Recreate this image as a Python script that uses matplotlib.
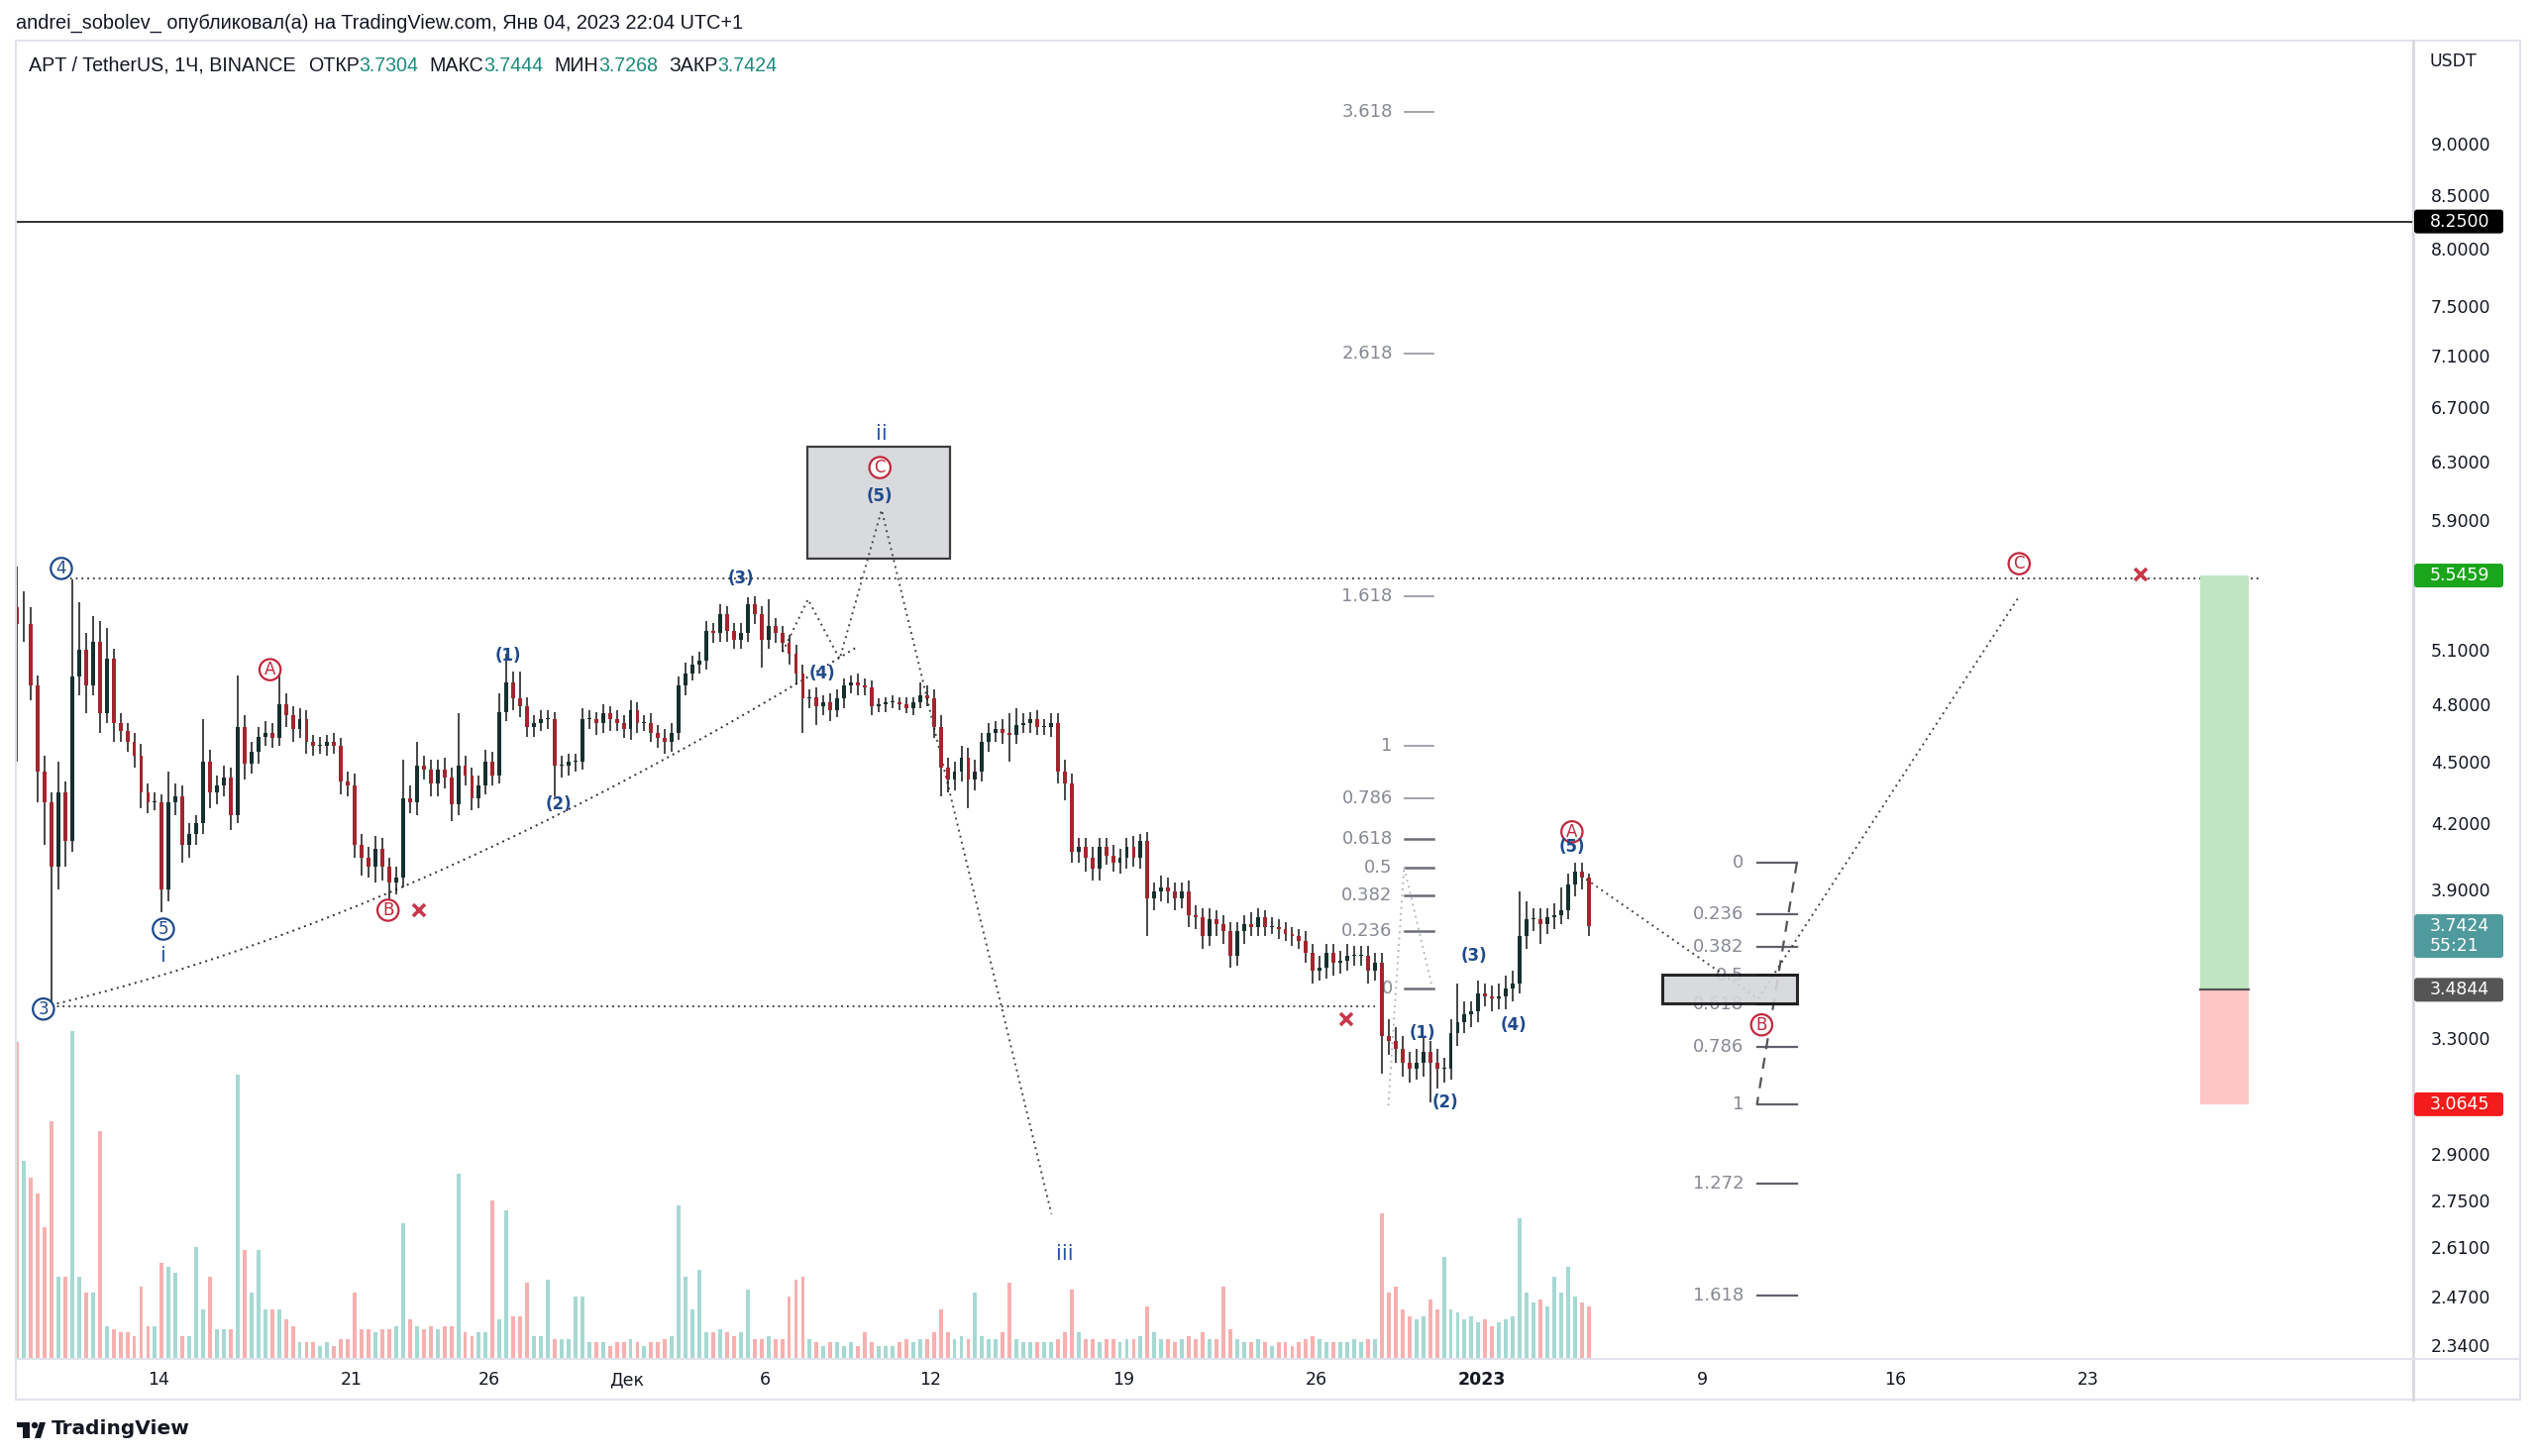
import numpy as np
import matplotlib
matplotlib.use("Agg")
import matplotlib.pyplot as plt
from matplotlib.patches import Rectangle, FancyBboxPatch, Circle, Polygon
from matplotlib.transforms import IdentityTransform
from matplotlib.ticker import FixedLocator, FormatStrFormatter, NullLocator
from matplotlib.lines import Line2D

plt.rcParams['font.family'] = ['DejaVu Sans']

W, H, DPI = 2560, 1470, 100

# ------------------------------------------------------------------ data
# 6-hour candles, x in days relative to 14 Nov 2022 00:00
START_DAY = -5.25
STEP = 0.25
FIRST_OPEN = 5.35
closes = [
 5.25,
 5.25, 4.90, 4.45, 4.30,
 4.00, 4.35, 4.12, 4.95,
 5.10, 4.90, 5.15, 4.75,
 5.05, 4.70, 4.66, 4.60,
 4.53, 4.35, 4.30, 4.30,
 3.90, 4.30, 4.33, 4.10,
 4.15, 4.20, 4.50, 4.35,
 4.38, 4.42, 4.24, 4.68,
 4.49, 4.55, 4.63, 4.65,
 4.62, 4.80, 4.74, 4.67,
 4.72, 4.60, 4.58, 4.58,
 4.60, 4.58, 4.40, 4.38,
 4.10, 4.04, 4.00, 4.08,
 4.00, 3.93, 3.95, 4.32,
 4.30, 4.48, 4.46, 4.39,
 4.46, 4.42, 4.29, 4.48,
 4.43, 4.32, 4.38, 4.50,
 4.43, 4.76, 4.92, 4.83,
 4.79, 4.68, 4.70, 4.72,
 4.72, 4.48, 4.48, 4.50,
 4.50, 4.72, 4.72, 4.70,
 4.75, 4.72, 4.70, 4.67,
 4.77, 4.70, 4.70, 4.65,
 4.62, 4.60, 4.65, 4.90,
 4.97, 5.02, 5.04, 5.21,
 5.20, 5.31, 5.21, 5.16,
 5.20, 5.37, 5.31, 5.16,
 5.24, 5.20, 5.14, 5.08,
 4.97, 4.83, 4.84, 4.79,
 4.81, 4.77, 4.83, 4.90,
 4.92, 4.90, 4.89, 4.79,
 4.80, 4.81, 4.81, 4.80,
 4.78, 4.81, 4.85, 4.83,
 4.68, 4.47, 4.41, 4.45,
 4.52, 4.41, 4.45, 4.60,
 4.65, 4.67, 4.65, 4.64,
 4.69, 4.70, 4.72, 4.68,
 4.68, 4.70, 4.45, 4.39,
 4.07, 4.09, 4.04, 3.99,
 4.09, 4.05, 4.02, 4.04,
 4.09, 4.04, 4.12, 3.86,
 3.89, 3.91, 3.89, 3.86,
 3.89, 3.79, 3.78, 3.70,
 3.77, 3.75, 3.72, 3.62,
 3.72, 3.75, 3.74, 3.78,
 3.74, 3.74, 3.73, 3.71,
 3.70, 3.68, 3.63, 3.56,
 3.57, 3.63, 3.59, 3.60,
 3.62, 3.62, 3.62, 3.56,
 3.59, 3.31, 3.29, 3.26,
 3.21, 3.19, 3.21, 3.25,
 3.21, 3.19, 3.19, 3.32,
 3.36, 3.39, 3.40, 3.47,
 3.46, 3.45, 3.46, 3.49,
 3.51, 3.70, 3.77, 3.77,
 3.75, 3.78, 3.79, 3.81,
 3.92, 3.98, 3.95, 3.7424,
]
# upper / lower wick beyond the body, in cents
hi_ext = [
 25,
 20, 10, 6, 8,   5, 15, 5, 57,   28, 10, 15, 12,   18, 6, 5, 4,
 5, 6, 4, 5,     4, 15, 6, 5,    5, 4, 22, 6,      5, 6, 5, 28,
 6, 5, 5, 6,     5, 16, 6, 5,    6, 5, 4, 5,       4, 5, 4, 5,
 6, 5, 5, 6,     5, 4, 5, 19,    6, 12, 5, 5,      5, 6, 5, 27,
 5, 4, 5, 6,     5, 10, 16, 6,   15, 5, 4, 5,      5, 4, 5, 4,
 4, 6, 5, 4,     5, 4, 5, 4,     5, 4, 4, 5,       4, 5, 5, 5,
 6, 5, 5, 6,     5, 6, 5, 5,     6, 4, 5, 5,       16, 5, 4, 5,
 5, 5, 4, 5,     4, 5, 5, 4,     4, 5, 4, 4,       3, 3, 4, 3,
 4, 3, 7, 5,     5, 6, 5, 5,     6, 5, 6, 5,       5, 4, 5, 10,
 9, 5, 4, 5,     4, 5, 5, 6,     5, 4, 4, 5,       4, 4, 5, 4,
 4, 5, 3, 4,     4, 5, 4, 4,     4, 5, 4, 4,       5, 4, 4, 4,
 4, 4, 5, 4,     3, 4, 3, 3,     3, 3, 4, 4,       5, 4, 4, 4,
 5, 4, 4, 4,     4, 4, 6, 5,     5, 4, 5, 5,       4, 5, 4, 5,
 15, 5, 4, 5,    4, 4, 5, 5,     5, 19, 8, 5,      5, 4, 5, 10,
 5, 4, 4, 2,
]
lo_ext = [
 75,
 10, 8, 15, 20,  58, 10, 12, 5,  10, 15, 5, 10,    5, 10, 6, 5,
 6, 8, 5, 4,     10, 5, 6, 8,    6, 5, 5, 8,       6, 5, 7, 4,
 8, 5, 6, 5,     5, 4, 6, 7,     5, 6, 5, 4,       5, 4, 6, 5,
 6, 8, 5, 7,     6, 11, 5, 4,    5, 6, 5, 6,       6, 5, 8, 5,
 5, 6, 5, 4,     5, 4, 5, 6,     6, 5, 5, 4,       5, 15, 6, 5,
 5, 4, 5, 6,     5, 6, 4, 5,     6, 5, 4, 5,       5, 6, 5, 4,
 5, 4, 5, 5,     6, 5, 6, 5,     5, 5, 6, 16,      5, 6, 5, 6,
 6, 18, 5, 10,   5, 6, 4, 5,     4, 5, 4, 5,       3, 4, 3, 3,
 3, 4, 3, 4,     6, 14, 6, 5,    5, 14, 5, 5,      5, 5, 6, 14,
 5, 4, 5, 4,     4, 5, 6, 8,     5, 5, 6, 5,       5, 4, 4, 5,
 5, 4, 5, 16,    5, 4, 5, 5,     4, 5, 5, 5,       4, 5, 5, 5,
 4, 5, 4, 4,     4, 3, 4, 3,     4, 3, 4, 5,       4, 4, 5, 4,
 4, 4, 4, 5,     4, 14, 5, 5,    5, 5, 4, 5,       14, 7, 5, 4,
 5, 4, 5, 4,     4, 5, 4, 5,     5, 4, 5, 5,       8, 4, 5, 4,
 4, 5, 5, 4,
]
volume_k = [
 95.8,
 60, 55, 50, 40,  72, 25, 25, 99.3,  25, 20, 20, 69,  10, 9, 8, 8,
 7, 22, 10, 10,   29, 28, 26, 7,     7, 34, 15, 25,   9, 9, 9, 86,
 33, 20, 33, 15,  15, 15, 12, 10,    5, 5, 5, 4,      5, 4, 6, 6,
 20, 9, 9, 8,     9, 9, 10, 41,      12, 10, 9, 10,   9, 10, 10, 56,
 8, 7, 8, 8,      48, 12, 45, 13,    13, 23, 7, 7,    24, 6, 6, 6,
 19, 19, 5, 5,    5, 4, 5, 5,        6, 5, 4, 5,      5, 6, 7, 46.5,
 25, 15, 27, 8,   8, 9, 8, 7,        8, 21, 6, 6,     7, 6, 6, 19,
 24, 25, 6, 5,    4, 5, 5, 4,        5, 4, 8, 5,      4, 4, 4, 5,
 6, 5, 6, 6,      8, 15, 8, 6,       7, 6, 20, 7,     6, 6, 8, 23,
 6, 5, 5, 5,      5, 5, 6, 8,        21, 8, 6, 6,     5, 6, 6, 5,
 6, 6, 7, 16,     8, 6, 6, 5,        6, 7, 6, 8,      6, 6, 22, 9,
 6, 5, 5, 6,      5, 4, 5, 5,        4, 5, 6, 7,      6, 5, 5, 5,
 5, 6, 5, 6,      6, 44, 20, 22,     15, 13, 12, 13,  18, 15, 31, 15,
 14, 12, 13, 11,  12, 10, 11, 12,    13, 42.5, 20, 17, 18, 16, 25, 20,
 28, 19, 17, 16,
]

price_ticks = [9.0, 8.5, 8.0, 7.5, 7.1, 6.7, 6.3, 5.9, 5.1, 4.8, 4.5,
               4.2, 3.9, 3.3, 2.9, 2.75, 2.61, 2.47, 2.34]
time_tick_days = [0, 7, 12, 17, 22, 28, 35, 42, 48, 56, 63, 70]
time_tick_labels = ['14', '21', '26', 'Дек', '6', '12', '19', '26', '2023', '9', '16', '23']

header_ohlc = [3.7304, 3.7444, 3.7268, 3.7424]
hline_black = 8.25
target_price, entry_price, stop_price = 5.5459, 3.4844, 3.0645
last_price = 3.7424
countdown = '55:21'

# Elliott wave labels: (day, price, text)
circ_blue = [(-3.52, 5.59, '4'), (-4.17, 3.41, '3'), (0.18, 3.73, '5')]
circ_red = [(4.05, 4.99, 'A'), (8.33, 3.81, 'B'), (26.17, 6.26, 'C'),
            (51.27, 4.16, 'A'), (58.15, 3.35, 'B'), (67.49, 5.62, 'C')]
paren_labels = [(12.68, 5.07, '(1)'), (14.5, 4.29, '(2)'), (21.13, 5.53, '(3)'),
                (24.06, 4.97, '(4)'), (26.17, 6.06, '(5)'),
                (45.83, 3.32, '(1)'), (46.66, 3.07, '(2)'), (47.73, 3.62, '(3)'),
                (49.16, 3.35, '(4)'), (51.27, 4.09, '(5)')]
roman_labels = [(0.18, 3.62, 'i'), (26.23, 6.50, 'ii'), (32.86, 2.59, 'iii')]
cross_marks = [(9.45, 3.81), (43.07, 3.37), (71.9, 5.55)]

# drawn lines
resist_level, resist_x = 5.53, (-3.4, 76.3)
support_level, support_x = 3.42, (-4.1, 44.13)
zigzag_d = [22.64, 23.56, 24.71, 26.23, 32.39]
zigzag_p = [5.09, 5.40, 5.05, 5.97, 2.71]
arc_d = [-4.11, 9.39, 25.35]          # start, control, end
arc_p = [3.42, 3.77, 5.12]
proj_d = [51.6, 58.02, 67.5]
proj_p = [3.96, 3.45, 5.42]
fibguide_d = [44.61, 45.18, 46.21]
fibguide_p = [3.06, 4.00, 3.49]
box_ii = (23.53, 28.70, 5.65, 6.41)     # d0, d1, p0, p1
box_b = (54.55, 59.43, 3.43, 3.546)
pos_tool_d = (74.06, 75.82)

lfib_levels = [0, 0.236, 0.382, 0.5, 0.618, 0.786, 1, 1.618, 2.618, 3.618]
lfib_p0, lfib_p1 = 3.49, 4.58
lfib_d = (44.76, 45.22, 46.24)   # label right edge, line start, line end
rfib_levels = [0, 0.236, 0.382, 0.5, 0.618, 0.786, 1, 1.272, 1.618]
rfib_p0, rfib_p1 = 4.02, 3.0645
rfib_d = (57.5, 57.98, 59.43)

# ------------------------------------------------------------------ figure
fig = plt.figure(figsize=(W / DPI, H / DPI), dpi=DPI, facecolor='white')
rect = [16 / W, 1 - 1372 / H, (2436 - 16) / W, (1372 - 41) / H]
XLIM = (-5.17, 81.78)
YLIM = (2.303, 10.106)

axv = fig.add_axes(rect)
ax = fig.add_axes(rect)
ax.set_facecolor('none')

n = min(len(closes), len(hi_ext), len(lo_ext), len(volume_k))
c = np.array(closes[:n])
o = np.concatenate([[FIRST_OPEN], c[:-1]])
hi = np.maximum(o, c) + np.array(hi_ext[:n]) / 100.0
lo = np.minimum(o, c) - np.array(lo_ext[:n]) / 100.0
t = START_DAY + STEP * np.arange(n) + STEP / 2
up = c >= o

# volume
vol = np.array(volume_k[:n])
axv.bar(t, vol, width=0.14, color=np.where(up, '#a6d9d3', '#f7b0b0'), linewidth=0)
axv.set_xlim(*XLIM)
axv.set_ylim(0, 399)
axv.axis('off')

# candles
ax.set_yscale('log')
ax.vlines(t, lo, hi, color='#151515', lw=1.1, zorder=3)
body_h = np.maximum(np.abs(c - o), 0.004)
ax.bar(t, body_h, bottom=np.minimum(o, c), width=0.14,
       color=np.where(up, '#16302e', '#a3252e'), linewidth=0, zorder=3.2)

ax.set_xlim(*XLIM)
ax.set_ylim(*YLIM)
for s in ax.spines.values():
    s.set_visible(False)

ax.yaxis.tick_right()
ax.yaxis.set_major_locator(FixedLocator(price_ticks))
ax.yaxis.set_major_formatter(FormatStrFormatter('%.4f'))
ax.yaxis.set_minor_locator(NullLocator())
ax.tick_params(axis='y', length=0, pad=13, labelsize=12.5, labelcolor='#131722')
ax.set_xticks(time_tick_days)
ax.set_xticklabels(time_tick_labels)
ax.tick_params(axis='x', length=0, pad=9, labelsize=12.5, labelcolor='#131722')
for lbl in ax.get_xticklabels():
    if lbl.get_text() == '2023':
        lbl.set_fontweight('bold')

NAVY = '#1f4a8c'
BLUE = '#2656a8'
RED = '#c0283c'
GREY_T = '#868993'
DOT = (0, (1, 2.2))

# horizontal lines
ax.axhline(hline_black, color='#111111', lw=1.2, zorder=2)
ax.plot(resist_x, [resist_level] * 2, color='#333', lw=1.3, ls=DOT, zorder=2)
ax.plot(support_x, [support_level] * 2, color='#333', lw=1.3, ls=DOT, zorder=2)

# boxes
d0, d1, p0, p1 = box_ii
ax.add_patch(Rectangle((d0, p0), d1 - d0, p1 - p0, fc='#d9dadd', ec='#3c3c3c', lw=1.6, zorder=2))

# arc (quadratic bezier in day / log-price space)
tt = np.linspace(0, 1, 200)
lp = np.log(arc_p)
bx = (1 - tt) ** 2 * arc_d[0] + 2 * (1 - tt) * tt * arc_d[1] + tt ** 2 * arc_d[2]
by = np.exp((1 - tt) ** 2 * lp[0] + 2 * (1 - tt) * tt * lp[1] + tt ** 2 * lp[2])
ax.plot(bx, by, color='#333', lw=1.4, ls=DOT, zorder=2.5)

ax.plot(zigzag_d, zigzag_p, color='#444', lw=1.4, ls=DOT, zorder=2.5)
ax.plot(proj_d, proj_p, color='#444', lw=1.4, ls=DOT, zorder=2.5)
ax.plot(fibguide_d, fibguide_p, color='#b5b8c0', lw=1.4, ls=DOT, zorder=2.5)

# left fib (log)
for lev in lfib_levels:
    p = np.exp(np.log(lfib_p0) + lev * (np.log(lfib_p1) - np.log(lfib_p0)))
    dark = lev in (0, 0.236, 0.382, 0.5, 0.618)
    ax.plot(lfib_d[1:], [p, p], color='#6a6d76' if dark else '#9a9da5', lw=1.8 if dark else 1.3, zorder=2)
    ax.text(lfib_d[0], p, ('%g' % lev), ha='right', va='center', color=GREY_T, fontsize=13, zorder=2)

# right fib (linear)
for lev in rfib_levels:
    p = rfib_p0 + lev * (rfib_p1 - rfib_p0)
    ax.plot(rfib_d[1:], [p, p], color='#5f626b', lw=1.6, zorder=2)
    ax.text(rfib_d[0], p, ('%g' % lev), ha='right', va='center', color=GREY_T, fontsize=13, zorder=2)
ax.plot([rfib_d[2], rfib_d[1]], [rfib_p0, rfib_p1], color='#555', lw=1.6, ls=(0, (5, 4)), zorder=2.2)

d0, d1, p0, p1 = box_b
ax.add_patch(Rectangle((d0, p0), d1 - d0, p1 - p0, fc='#d5d6da', ec='#111', lw=2.2, alpha=0.9, zorder=2.6))

# position tool
pd0, pd1 = pos_tool_d
ax.add_patch(Rectangle((pd0, entry_price), pd1 - pd0, target_price - entry_price, fc='#bfe5c1', ec='none', zorder=2))
ax.add_patch(Rectangle((pd0, stop_price), pd1 - pd0, entry_price - stop_price, fc='#fdc6c7', ec='none', zorder=2))
ax.plot([pd0, pd1], [entry_price] * 2, color='#555', lw=1.6, zorder=2.1)

# wave labels
for d, p, s in circ_blue:
    ax.text(d, p, s, ha='center', va='center', color=NAVY, fontsize=12, zorder=5,
            bbox=dict(boxstyle='circle,pad=0.1', fc='white', ec=NAVY, lw=1.6))
for d, p, s in circ_red:
    ax.text(d, p, s, ha='center', va='center', color=RED, fontsize=12, zorder=5,
            bbox=dict(boxstyle='circle,pad=0.1', fc='white', ec=RED, lw=1.6))
for d, p, s in paren_labels:
    ax.text(d, p, s, ha='center', va='center', color=NAVY, fontsize=12, fontweight='bold', zorder=5)
for d, p, s in roman_labels:
    ax.text(d, p, s, ha='center', va='center', color=BLUE, fontsize=15, zorder=5)
for d, p in cross_marks:
    ax.plot(d, p, marker='x', ms=9, mew=2.6, color='#c8384a', zorder=5)

# ------------------------------------------------------------------ frame & axis boxes
fig.canvas.draw()
ID = IdentityTransform()


def ypx(p):
    return ax.transData.transform((0, p))[1]


def fline(x0, y0, x1, y1, color='#e0e3eb', lw=1.5):
    fig.add_artist(Line2D([x0, x1], [H - y0, H - y1], color=color, lw=lw, transform=ID, zorder=1))


fline(16, 41, 2544, 41)
fline(16, 1413, 2544, 1413)
fline(16, 41, 16, 1413)
fline(2544, 41, 2544, 1413)
fline(2436, 41, 2436, 1413, color='#d6d8de', lw=2)
fline(16, 1372, 2544, 1372)


def axis_box(price, lines, fc, tc='white'):
    yc = ypx(price)
    h = 24 if len(lines) == 1 else 44
    top = yc + 12
    fig.add_artist(FancyBboxPatch((2437, top - h), 90, h, boxstyle='round,pad=0,rounding_size=3',
                                  fc=fc, ec='none', transform=ID, zorder=4))
    for k, s in enumerate(lines):
        fig.text(2453 / W, (yc - 20 * k) / H, s, ha='left', va='center', color=tc,
                 fontsize=12.5, zorder=5)


axis_box(hline_black, ['%.4f' % hline_black], '#000000')
axis_box(target_price, ['%.4f' % target_price], '#1aa51a')
axis_box(last_price, ['%.4f' % last_price, countdown], '#4f9a9d', '#ffffff')
axis_box(entry_price, ['%.4f' % entry_price], '#555555')
axis_box(stop_price, ['%.4f' % stop_price], '#f31b1b')

fig.text(2453 / W, 1 - 62 / H, 'USDT', ha='left', va='center', fontsize=12.5, color='#131722')

# header
HFONT = ['Liberation Sans', 'DejaVu Sans']
fig.text(16 / W, 1 - 23 / H,
         'andrei_sobolev_ опубликовал(а) на TradingView.com, Янв 04, 2023 22:04 UTC+1',
         ha='left', va='center', fontsize=14.3, color='#131722', family=HFONT)

DARK, TEAL = '#131722', '#1b8a7b'
pieces = [('APT / TetherUS, 1Ч, BINANCE', DARK, 12), ('ОТКР', DARK, 0),
          ('%.4f' % header_ohlc[0], TEAL, 11), ('МАКС', DARK, 0),
          ('%.4f' % header_ohlc[1], TEAL, 11), ('МИН', DARK, 0),
          ('%.4f' % header_ohlc[2], TEAL, 11), ('ЗАКР', DARK, 0),
          ('%.4f' % header_ohlc[3], TEAL, 0)]
renderer = fig.canvas.get_renderer()
x = 29
for s, col, gap in pieces:
    tx = fig.text(x / W, 1 - 66 / H, s, ha='left', va='center', fontsize=14.1, color=col, family=HFONT)
    x += tx.get_window_extent(renderer).width + gap

# TradingView logo + text
fig.add_artist(Rectangle((17, H - 1441), 13, 5, fc='#131722', ec='none', transform=ID))
fig.add_artist(Rectangle((23, H - 1452), 7, 12, fc='#131722', ec='none', transform=ID))
fig.add_artist(Circle((35, H - 1439), 3.2, fc='#131722', ec='none', transform=ID))
fig.add_artist(Polygon([(40, H - 1436), (46, H - 1436), (41, H - 1452), (35, H - 1452)],
                       closed=True, fc='#131722', ec='none', transform=ID))
fig.text(52 / W, 1 - 1443 / H, 'TradingView', ha='left', va='center', fontsize=14.5,
         fontweight='bold', color='#131722')

fig.savefig('out.png', dpi=DPI, facecolor='white')
